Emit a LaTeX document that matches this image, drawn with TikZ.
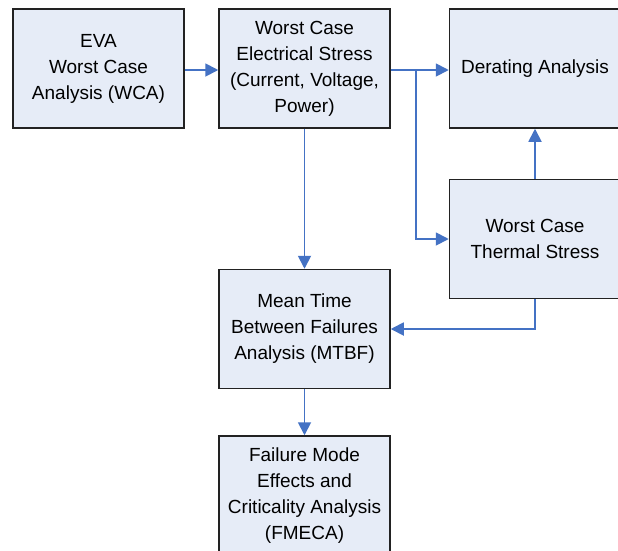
\documentclass[tikz,border=0pt]{standalone}
\usepackage{fontspec}
\setmainfont{Liberation Sans}
\usetikzlibrary{arrows.meta}
\definecolor{boxfill}{HTML}{E6ECF7}
\definecolor{boxline}{HTML}{222222}
\definecolor{arrowblue}{HTML}{4472C4}
\tikzset{
  box/.style={draw=boxline, fill=boxfill, line width=1.5pt, minimum width=171pt, minimum height=119pt,
    inner sep=0pt, align=center, font=\fontsize{19}{26}\selectfont},
  conn/.style={draw=arrowblue, line width=1.8pt, -{Triangle[length=13pt,width=13pt]}}
}
\begin{document}
\begin{tikzpicture}[x=1pt,y=-1pt]
\useasboundingbox (0,0) rectangle (618,550);
\fill[white] (0,0) rectangle (618,550);
\clip (0,0) rectangle (618,550);
\node[box] (eva) at (98.5,68.5) {EVA\\Worst Case\\Analysis (WCA)};
\node[box] (elec) at (304.5,68.5) {Worst Case\\Electrical Stress\\(Current, Voltage,\\Power)};
\node[box] (der) at (535,68.5) {Derating Analysis};
\node[box] (therm) at (535,239) {Worst Case\\Thermal Stress};
\node[box] (mtbf) at (304.5,329) {Mean Time\\Between Failures\\Analysis (MTBF)};
\node[box] (fmeca) at (304.5,495.5) {Failure Mode\\Effects and\\Criticality Analysis\\(FMECA)};
\coordinate (split) at (416,70);
\draw[conn] (eva.east |- 0,70) -- (elec.west |- 0,70);
\draw[conn] (elec.east |- split) -- (der.west |- split);
\draw[conn] (split) |- (therm.west);
\draw[conn] (elec.south) -- (mtbf.north);
\draw[conn] (therm.north) -- (der.south);
\draw[conn] (therm.south) |- (mtbf.east);
\draw[conn] (mtbf.south) -- (fmeca.north);
\end{tikzpicture}
\end{document}
